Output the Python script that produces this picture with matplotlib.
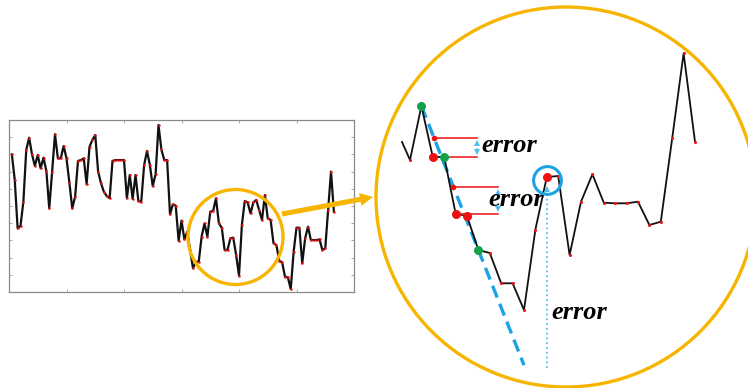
import matplotlib.pyplot as plt
import numpy as np
from matplotlib.patches import Circle, FancyArrow

# full signal shown in the small framed chart
signal = [8.0, 6.51, 3.70, 3.84, 5.25, 8.26, 8.97, 8.0, 7.33, 7.97,
          7.19, 7.81, 7.03, 4.86, 7.0, 9.17, 7.77, 7.77, 8.49, 7.77,
          6.36, 4.86, 5.54, 7.62, 7.67, 7.77, 6.26, 8.45, 8.84, 9.13,
          7.0, 6.32, 5.83, 5.58, 5.45, 7.62, 7.67, 7.67, 7.67, 7.67,
          5.45, 6.80, 5.41, 6.80, 5.29, 5.25, 7.38, 8.20, 7.38, 6.16,
          6.86, 9.71, 8.29, 7.67, 7.67, 4.52, 5.10, 5.02, 2.98, 4.15,
          3.06, 3.51, 2.44, 1.38, 1.76, 1.76, 3.22, 3.99, 3.22, 4.67,
          4.71, 5.45, 3.99, 3.74, 2.44, 2.44, 3.12, 3.16, 2.15, 0.95,
          3.90, 5.29, 5.21, 4.57, 5.21, 5.35, 4.77, 4.19, 5.64, 4.28,
          4.19, 2.83, 2.73, 1.82, 1.72, 0.89, 0.85, 0.17, 2.34, 3.74,
          3.74, 1.67, 3.12, 3.80, 3.02, 3.02, 3.02, 3.06, 2.44, 2.54,
          4.77, 7.0, 4.67]

# magnified segment (sample index, level)
zoom_x = [0.3] + list(range(1, 27))
zoom_y = [18.8, 17.0, 22.4, 17.3, 17.3, 11.65, 11.4, 8.0, 7.7, 4.67,
          4.67, 2.0, 10.05, 15.3, 15.4, 7.5, 12.83, 15.57, 12.73, 12.67,
          12.67, 12.83, 10.5, 10.83, 19.17, 27.67, 18.83]
green_idx = [2, 4, 7]
big_red_idx = [3, 5, 6, 13]
circled_idx = 13
line_end = 11.0
err_start = [3.1, 4.8]           # where the error is measured on the dashed line
err_low = [17.3, 11.65]          # curve level at the same step
err_from = [4, 5]
err_right = [6.85, 8.72]
err_text = [(7.25, 18.4), (7.85, 13.1)]
err3_bottom = -3.8
err3_text = (13.4, 1.75)

GOLD = '#F7B500'
CYAN = '#1BA3E3'
LCYAN = '#4FC0EE'
GREEN = '#17A04A'
RED = '#EE1111'

W, H = 748, 388
fig = plt.figure(figsize=(W / 100, H / 100), dpi=100)


def frac(x0, y0, x1, y1):
    return [x0 / W, 1 - y1 / H, (x1 - x0) / W, (y1 - y0) / H]


# overlay in pixel units for circles and the pointer arrow
ov = fig.add_axes([0, 0, 1, 1])
ov.set_xlim(0, W)
ov.set_ylim(H, 0)
ov.axis('off')
ov.set_zorder(2)
ov.patch.set_alpha(0)

# small chart
ax = fig.add_axes(frac(9, 120, 354, 292))
ax.set_zorder(1)
xs = np.arange(1, len(signal) + 1)
ax.plot(xs, signal, color='#111111', lw=1.6, zorder=2)
ax.plot(xs, signal, 'o', color=RED, ms=1.8, mew=0, zorder=3)
ax.set_xlim(0, 120)
ax.set_ylim(0, 10)
ax.set_xticks(np.arange(0, 121, 20))
ax.set_yticks(np.arange(0, 11, 1))
ax.tick_params(direction='in', length=2.5, width=0.6, color='#999999',
               top=True, right=True, labelbottom=False, labelleft=False)
for s in ax.spines.values():
    s.set_color('#8a8a8a')
    s.set_linewidth(0.9)

ov.add_patch(Circle((235.5, 237), 47.5, fill=False, ec=GOLD, lw=2.4))
ov.add_patch(Circle((566, 197), 190, fill=False, ec=GOLD, lw=2.4))
ov.add_patch(FancyArrow(282, 214, 91, -17, width=5, head_width=13,
                        head_length=13, length_includes_head=True,
                        color=GOLD, lw=0))

# magnified view
zx0, zstep, zy0, zscale = 398.6, 11.4, 330.0, 10.0
zax = fig.add_axes(frac(376, 0, 748, 388))
zax.set_xlim((376 - zx0) / zstep, (748 - zx0) / zstep)
zax.set_ylim((zy0 - 388) / zscale, zy0 / zscale)
zax.axis('off')
zax.set_zorder(3)
zax.patch.set_alpha(0)

zx = np.array(zoom_x, dtype=float)
zy = np.array(zoom_y)

# tangent through the first and last green points
slope = (zy[green_idx[2]] - zy[green_idx[0]]) / (green_idx[2] - green_idx[0])
x_a = green_idx[0]
y_a = zy[x_a]
tangent = lambda t: y_a + slope * (t - x_a)
zax.plot([x_a, line_end], [y_a, tangent(line_end)], color=CYAN, lw=2.4,
         dashes=(3.8, 2), zorder=2)

zax.plot(zx, zy, color='#111111', lw=1.3, zorder=3)
zax.plot(zx[1:], zy[1:], 'o', color=RED, ms=2.2, mew=0, zorder=4)
zax.plot(zx[big_red_idx], zy[big_red_idx], 'o', color=RED, ms=6.5, mew=0, zorder=5)
zax.plot(zx[green_idx], zy[green_idx], 'o', color=GREEN, ms=6.5, mew=0, zorder=5)

txt_kw = dict(family=['Liberation Serif', 'DejaVu Serif'], style='italic',
              weight='bold', fontsize=19, va='center', ha='left', zorder=6)

for xs0, lo, xf, xr, (tx, ty) in zip(err_start, err_low, err_from, err_right, err_text):
    top = tangent(xs0)
    zax.plot([xs0, xr], [top, top], color=RED, lw=1.1, zorder=4)
    zax.plot([xf, xr], [lo, lo], color=RED, lw=1.1, zorder=4)
    zax.plot([xs0], [top], 'o', color=RED, ms=4, mew=0, zorder=5)
    zax.plot([xr, xr], [top - 0.5, lo + 0.5], color=LCYAN, lw=1.5, ls=':', zorder=4)
    zax.plot([xr], [top - 0.5], marker='^', color=LCYAN, ms=4.5, mew=0, zorder=4)
    zax.plot([xr], [lo + 0.5], marker='v', color=LCYAN, ms=4.5, mew=0, zorder=4)
    zax.text(tx, ty, 'error', **txt_kw)

# vertical error under the circled point
cx, cy = zx[circled_idx], zy[circled_idx]
zax.plot([cx, cx], [err3_bottom, cy - 1.4], color=LCYAN, lw=1.3, ls=':', zorder=2)
zax.plot([cx], [cy - 1.2], marker='^', color=LCYAN, ms=4.5, mew=0, zorder=4)
zax.plot([cx], [cy - 0.3], 'o', ms=20, mfc='none', mec=CYAN, mew=2.2, zorder=6)
zax.text(err3_text[0], err3_text[1], 'error', **txt_kw)

fig.savefig('out.png', dpi=100)
